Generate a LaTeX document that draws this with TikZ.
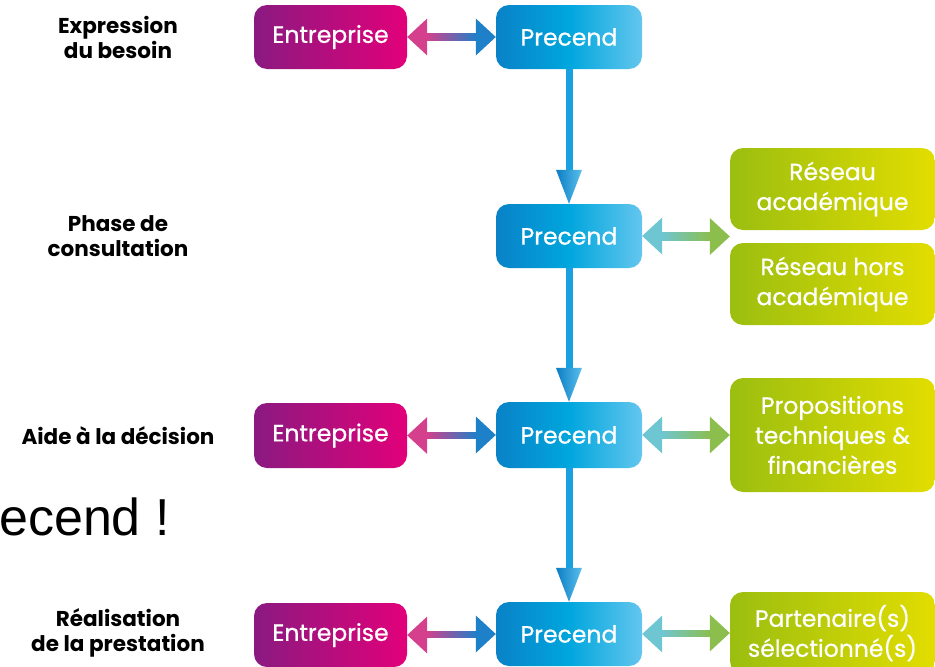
\documentclass[tikz,border=0pt]{standalone}
\usepackage{fontspec}
\setmainfont{Poppins}
\newfontfamily\boxfont{Poppins}[FakeBold=0.7]
\newfontfamily\arialfont{Liberation Sans}
\usetikzlibrary{calc}
\definecolor{entL}{RGB}{138,26,128}
\definecolor{entR}{RGB}{226,0,122}
\definecolor{preL}{RGB}{10,130,200}
\definecolor{preM}{RGB}{0,166,221}
\definecolor{preR}{RGB}{100,198,238}
\definecolor{grnL}{RGB}{155,190,16}
\definecolor{grnR}{RGB}{226,221,0}
\definecolor{shaftblue}{RGB}{26,160,224}
\definecolor{headdark}{RGB}{12,124,196}
\definecolor{headlight}{RGB}{90,192,236}
\definecolor{pinkhead}{RGB}{212,64,140}
\definecolor{bluehead}{RGB}{30,128,200}
\definecolor{tealhead}{RGB}{110,198,210}
\definecolor{greenhead}{RGB}{140,190,78}
\newcommand\hdarrow[4]{%
  \shade[left color=#3, right color=#4] ($(#1)+(19,-3.5)$) rectangle ($(#2)+(-19,3.5)$);
  \fill[#3] (#1) -- ++(20,-18.5) -- ++(0,37) -- cycle;
  \fill[#4] (#2) -- ++(-20,-18.5) -- ++(0,37) -- cycle;
}
\newcommand\vdarrow[2]{%
  \fill[shaftblue] ($(#1)+(-3.5,0)$) rectangle ($(#2)+(3.5,-33)$);
  \shade[left color=headdark, right color=headlight] (#2) -- ++(-13,-34) -- ++(26,0) -- cycle;
}
\tikzset{
  box/.style={rounded corners=13pt, inner sep=0pt, text=white,
    font=\boxfont\fontsize{23.5}{30}\selectfont, align=center},
  ent/.style={box, left color=entL, right color=entR, minimum width=153pt, minimum height=64pt},
  pre/.style={box, left color=preL, right color=preR, middle color=preM, minimum width=146pt, minimum height=64pt},
  grn/.style={box, left color=grnL, right color=grnR, minimum width=205pt},
  phase/.style={font=\bfseries\fontsize{21.5}{25}\selectfont, align=center, text=black, inner sep=0pt},
}
\begin{document}
\begin{tikzpicture}[x=1pt,y=-1pt]
\useasboundingbox (0,0) rectangle (935,667);
% phase labels
\node[phase] (l1) at (118,37.5) {Expression\\du besoin};
\node[phase] (l2) at (118,236.5) {Phase de\\consultation};
\node[phase] (l3) at (118,436) {Aide à la décision};
\node[phase] (l4) at (118,633) {Réalisation\\de la prestation};
\node[anchor=base west, inner sep=0pt, font=\arialfont\fontsize{52}{60}\selectfont] (big) at (-1,535) {ecend !};
% boxes
\node[ent] (e1) at (330.5,37) {Entreprise};
\node[pre] (p1) at (569,37) {Precend};
\node[pre] (p2) at (569,236) {Precend};
\node[grn, minimum height=82pt] (r1) at (832.5,189) {Réseau\\académique};
\node[grn, minimum height=82pt] (r2) at (832.5,284) {Réseau hors\\académique};
\node[ent, minimum height=65pt] (e3) at (330.5,435.5) {Entreprise};
\node[pre, minimum height=66pt] (p3) at (569,435) {Precend};
\node[grn, minimum height=114pt] (g3) at (832.5,435) {Propositions\\techniques \&\\financières};
\node[ent] (e4) at (330.5,635) {Entreprise};
\node[pre] (p4) at (569,634) {Precend};
\node[grn, minimum height=82pt] (g4) at (832.5,633) {Partenaire(s)\\sélectionné(s)};
\coordinate (gmid) at ($(r1.south west)!0.5!(r2.north west)$);
% arrows
\hdarrow{e1.east}{p1.west}{pinkhead}{bluehead}
\hdarrow{e3.east}{p3.west}{pinkhead}{bluehead}
\hdarrow{e4.east}{p4.west}{pinkhead}{bluehead}
\hdarrow{p2.east}{gmid}{tealhead}{greenhead}
\hdarrow{p3.east}{g3.west}{tealhead}{greenhead}
\hdarrow{p4.east}{g4.west}{tealhead}{greenhead}
\vdarrow{p1.south}{p2.north}
\vdarrow{p2.south}{p3.north}
\vdarrow{p3.south}{p4.north}
\end{tikzpicture}
\end{document}
